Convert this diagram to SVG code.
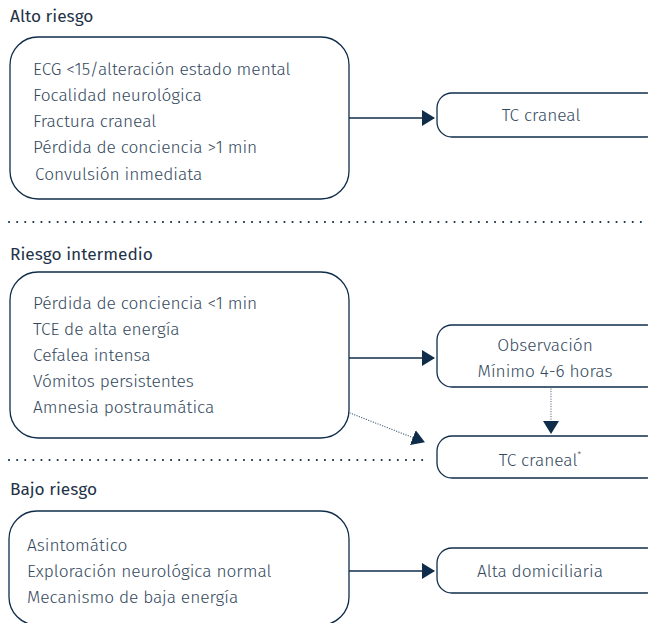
<svg xmlns="http://www.w3.org/2000/svg" width="648" height="623" viewBox="0 0 648 623">
<style>
text{font-family:"Fira Sans","Roboto","Liberation Sans",sans-serif;font-weight:300;fill:#34495e;font-size:17.3px}
.h{font-weight:400;fill:#1f3348}
.box{fill:#fff;stroke:#0f2d4a;stroke-width:1.3}
.ln{stroke:#0f2d4a;stroke-width:1.3;fill:none}
.dt{stroke:#3d5670;stroke-width:1.2;fill:none;stroke-dasharray:0.1 2.4;stroke-linecap:round}
.sep{stroke:#0f2d4a;stroke-width:2;fill:none;stroke-dasharray:0.1 8;stroke-linecap:round}
.c{text-anchor:middle}
</style>
<defs>
<marker id="ah" markerWidth="13" markerHeight="16" refX="12" refY="8" orient="auto" markerUnits="userSpaceOnUse">
<path d="M0,0 L13,8 L0,16 Z" fill="#0f2d4a"/>
</marker>
</defs>
<rect width="648" height="623" fill="#fff"/>
<g id="labels">
<text class="h" x="10" y="22">Alto riesgo</text>
<text class="h" x="10" y="260">Riesgo intermedio</text>
<text class="h" x="10" y="495">Bajo riesgo</text>
</g>
<g id="separators">
<line class="sep" x1="9" y1="222" x2="648" y2="222"/>
<line class="sep" x1="9" y1="460" x2="430" y2="460"/>
</g>
<g id="alto">
<rect class="box" x="10" y="37" width="339" height="162" rx="28"/>
<text x="33" y="75">ECG &lt;15/alteración estado mental</text>
<text x="33" y="101">Focalidad neurológica</text>
<text x="33" y="127">Fractura craneal</text>
<text x="33" y="153">Pérdida de conciencia &gt;1 min</text>
<text x="35" y="180">Convulsión inmediata</text>
</g>
<g id="tc1">
<rect class="box" x="437" y="93" width="225" height="44" rx="15"/>
<text class="c" x="541" y="121">TC craneal</text>
</g>
<g id="intermedio">
<rect class="box" x="10" y="272" width="339" height="166" rx="28"/>
<text x="33" y="309">Pérdida de conciencia &lt;1 min</text>
<text x="33" y="335">TCE de alta energía</text>
<text x="33" y="361">Cefalea intensa</text>
<text x="33" y="387">Vómitos persistentes</text>
<text x="33" y="413">Amnesia postraumática</text>
</g>
<g id="observacion">
<rect class="box" x="437" y="325" width="225" height="62" rx="15"/>
<text class="c" x="545" y="351">Observación</text>
<text class="c" x="545" y="377">Mínimo 4-6 horas</text>
</g>
<g id="tc2">
<rect class="box" x="437" y="436" width="225" height="42" rx="15"/>
<text class="c" x="540" y="466">TC craneal<tspan dy="-8" font-size="9">*</tspan></text>
</g>
<g id="bajo">
<rect class="box" x="9" y="511" width="340" height="114" rx="28"/>
<text x="27" y="551">Asintomático</text>
<text x="27" y="577">Exploración neurológica normal</text>
<text x="27" y="603">Mecanismo de baja energía</text>
</g>
<g id="alta">
<rect class="box" x="437" y="548" width="225" height="45" rx="15"/>
<text class="c" x="540" y="577">Alta domiciliaria</text>
</g>
<g id="connectors">
<line class="ln" x1="349" y1="118" x2="434" y2="118" marker-end="url(#ah)"/>
<line class="ln" x1="349" y1="358" x2="434" y2="358" marker-end="url(#ah)"/>
<line class="dt" x1="350" y1="413" x2="424" y2="442" marker-end="url(#ah)"/>
<line class="dt" x1="551" y1="389" x2="551" y2="433" marker-end="url(#ah)"/>
<line class="ln" x1="349" y1="571" x2="434" y2="571" marker-end="url(#ah)"/>
</g>
</svg>
